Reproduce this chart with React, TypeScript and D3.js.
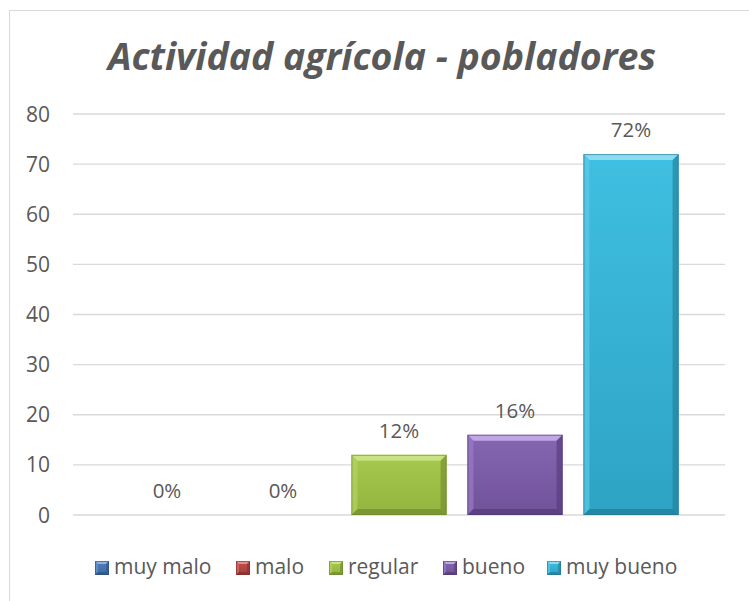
import React from "react";
import * as d3 from "d3";

const title = "Actividad agrícola - pobladores";
const categories = ["muy malo", "malo", "regular", "bueno", "muy bueno"];
const values = [0, 0, 12, 16, 72];
const valueLabels = ["0%", "0%", "12%", "16%", "72%"];
const yTicks = [0, 10, 20, 30, 40, 50, 60, 70, 80];

type Pal = { top: string; main1: string; main2: string; left: string; right: string; bottom: string; stroke: string };
const palettes: Pal[] = [
  { top: "#8fb3e0", main1: "#4f81bd", main2: "#3c6aa3", left: "#6a96cf", right: "#2f5687", bottom: "#2a4d7a", stroke: "#2c4f7c" },
  { top: "#e48f8c", main1: "#c0504d", main2: "#a43f3c", left: "#d06a67", right: "#8a2f2d", bottom: "#7d2a28", stroke: "#7f2d2b" },
  { top: "#c9e283", main1: "#a6c94d", main2: "#93b43f", left: "#b4d262", right: "#6f8a2c", bottom: "#6a8529", stroke: "#6b8430" },
  { top: "#c2a6e3", main1: "#8566b1", main2: "#70529a", left: "#9a7cc4", right: "#54397a", bottom: "#4f3672", stroke: "#4f3772" },
  { top: "#8bdcf1", main1: "#3fbfe1", main2: "#2ea3c4", left: "#5ccbe8", right: "#1f7d97", bottom: "#1d7790", stroke: "#22758c" },
];

const W = 749;
const H = 601;
const plotLeft = 73;
const plotRight = 725;
const FONT = "'Open Sans', 'Liberation Sans', sans-serif";
const TXT = "#595959";

function Bevel({ x, y, w, h, p, b, id }: { x: number; y: number; w: number; h: number; p: Pal; b: number; id: string }) {
  if (h <= 0) return null;
  const bb = Math.min(b, h / 2, w / 2);
  const x1 = x + w;
  const y1 = y + h;
  return (
    <g>
      <defs>
        <linearGradient id={id} x1="0" y1="0" x2="0" y2="1">
          <stop offset="0" stopColor={p.main1} />
          <stop offset="1" stopColor={p.main2} />
        </linearGradient>
      </defs>
      <rect x={x} y={y} width={w} height={h} fill={`url(#${id})`} />
      <polygon points={`${x},${y} ${x1},${y} ${x1 - bb},${y + bb} ${x + bb},${y + bb}`} fill={p.top} />
      <polygon points={`${x},${y} ${x + bb},${y + bb} ${x + bb},${y1 - bb} ${x},${y1}`} fill={p.left} opacity={0.7} />
      <polygon points={`${x1},${y} ${x1},${y1} ${x1 - bb},${y1 - bb} ${x1 - bb},${y + bb}`} fill={p.right} opacity={0.6} />
      <polygon points={`${x},${y1} ${x + bb},${y1 - bb} ${x1 - bb},${y1 - bb} ${x1},${y1}`} fill={p.bottom} opacity={0.6} />
      <rect x={x + 0.5} y={y + 0.5} width={w - 1} height={h - 1} fill="none" stroke={p.stroke} strokeWidth={1} strokeOpacity={0.6} />
    </g>
  );
}

export default function App() {
  const y = d3.scaleLinear().domain([0, 80]).range([515, 114]);
  const x = d3
    .scaleBand<string>()
    .domain(categories)
    .range([plotLeft, plotRight])
    .paddingInner(0.18)
    .paddingOuter(0.4);

  const legendX = [95, 236, 329, 443, 547];

  return (
    <svg
      width={W}
      height={H}
      style={{ position: "absolute", left: 0, top: 0, background: "#fff" }}
      fontFamily={FONT}
    >
      <rect x={0} y={0} width={W} height={H} fill="#fff" />
      <line x1={9.5} y1={10} x2={9.5} y2={H} stroke="#d9d9d9" strokeWidth={1} />
      <line x1={9} y1={10.5} x2={W} y2={10.5} stroke="#d9d9d9" strokeWidth={1} />

      <text x={382} y={70} textAnchor="middle" fontSize={37.5} fontWeight="bold" fontStyle="italic" fill={TXT}>
        {title}
      </text>

      {yTicks.map((t) => (
        <g key={t}>
          <line x1={plotLeft} x2={plotRight} y1={y(t)} y2={y(t)} stroke="#d9d9d9" strokeWidth={1.3} />
          <text x={50} y={y(t)} dy="0.36em" textAnchor="end" fontSize={21} fill={TXT}>
            {t}
          </text>
        </g>
      ))}

      {categories.map((c, i) => {
        const bx = x(c)!;
        const bw = x.bandwidth();
        const top = y(values[i]);
        return (
          <g key={c}>
            <Bevel id={`g${i}`} x={bx} y={top} w={bw} h={y(0) - top} p={palettes[i]} b={6} />
            <text x={bx + bw / 2} y={top - 17} textAnchor="middle" fontSize={20.5} fill={TXT}>
              {valueLabels[i]}
            </text>
          </g>
        );
      })}

      {categories.map((c, i) => (
        <g key={"l" + c}>
          <Bevel id={`lg${i}`} x={legendX[i]} y={561} w={14} h={14} p={palettes[i]} b={3} />
          <text x={legendX[i] + 19} y={574} fontSize={21} fill={TXT}>
            {c}
          </text>
        </g>
      ))}
    </svg>
  );
}
